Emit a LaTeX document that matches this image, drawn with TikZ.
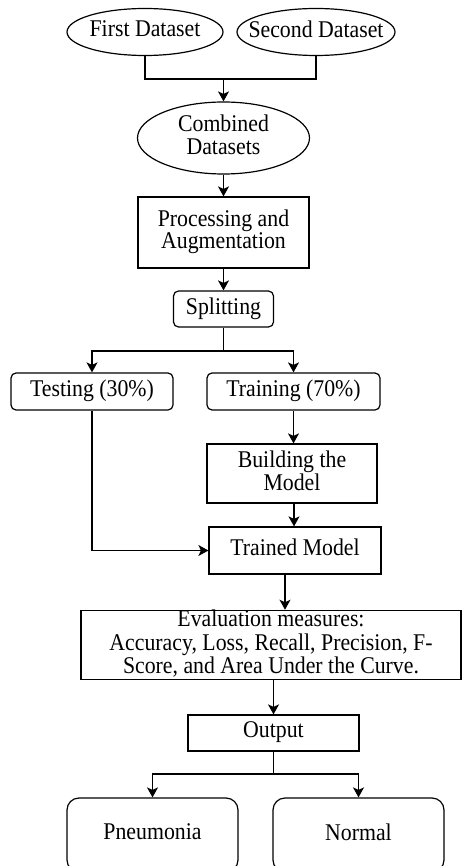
\documentclass[tikz,border=0pt]{standalone}
\usepackage{fontspec}
\usepackage{graphicx}
\setmainfont{Liberation Serif}
\usetikzlibrary{shapes.geometric,arrows.meta}
\newcommand\vtxt[1]{\raisebox{-3.6pt}{\scalebox{1}[1.1]{\begin{tabular}{@{}c@{}}#1\end{tabular}}}}
\begin{document}
\begin{tikzpicture}[x=1pt,y=-1pt,
  every node/.style={font=\fontsize{21.8}{19.6}\selectfont, align=center, inner sep=0pt, line width=1.2pt},
  ell/.style={draw, ellipse, inner xsep=-15pt, inner ysep=0pt},
  sq/.style={draw, rectangle},
  rnd/.style={draw, rectangle, rounded corners=5pt},
  bigrnd/.style={draw, rectangle, rounded corners=12pt},
  ln/.style={line width=1.3pt},
  arr/.style={line width=1.3pt, -{Stealth[length=10pt,width=11pt,inset=2.5pt]}}]
\useasboundingbox (0,0) rectangle (462,866);
\clip (0,0) rectangle (462,866);
\node[ell, minimum width=156pt, minimum height=47pt] (f1) at (145,32) {\vtxt{First Dataset}};
\node[ell, minimum width=158pt, minimum height=47pt] (f2) at (316,32) {\vtxt{Second Dataset}};
\node[ell, minimum width=172pt, minimum height=72pt] (comb) at (223.5,138) {\vtxt{Combined\\Datasets}};
\node[sq, minimum width=171pt, minimum height=71pt] (proc) at (223.5,232.5) {\vtxt{Processing and\\Augmentation}};
\node[rnd, minimum width=100pt, minimum height=36pt] (split) at (223.5,309) {\vtxt{Splitting}};
\node[rnd, minimum width=162pt, minimum height=37pt] (test) at (92,391.5) {\vtxt{Testing (30\%)}};
\node[rnd, minimum width=173pt, minimum height=37pt] (train) at (293.5,391.5) {\vtxt{Training (70\%)}};
\node[sq, minimum width=170pt, minimum height=59pt] (build) at (292,473.5) {\vtxt{Building the\\Model}};
\node[sq, minimum width=172pt, minimum height=47pt] (trained) at (295,550.5) {\vtxt{Trained Model}};
\node[sq, minimum width=380pt, minimum height=68pt] (eval) at (271,645) {\vtxt{Evaluation measures:\\Accuracy, Loss, Recall, Precision, F-\\Score, and Area Under the Curve.}};
\node[sq, minimum width=171pt, minimum height=36pt] (out) at (273.5,733) {\vtxt{Output}};
\node[bigrnd, minimum width=171pt, minimum height=74pt] (pn) at (152.5,835) {\vtxt{Pneumonia}};
\node[bigrnd, minimum width=171pt, minimum height=74pt] (nm) at (358.5,835) {\vtxt{Normal}};
\coordinate (j1) at (223.5,79);
\coordinate (j2) at (223.5,351);
\coordinate (j3) at (273.5,774);
\draw[ln] (f1.south) |- (j1) -| (f2.south);
\draw[arr] (j1) -- (comb.north);
\draw[arr] (comb.south) -- (proc.north);
\draw[arr] (proc.south) -- (split.north);
\draw[ln] (split.south) -- (j2);
\draw[arr] (j2) -| (test.north);
\draw[arr] (j2) -| (train.north);
\draw[arr] (train.south) -- (train.south |- build.north);
\draw[arr] ([xshift=2pt]build.south) -- ([xshift=2pt]build.south |- trained.north);
\draw[arr] (test.south) |- (trained.west);
\draw[arr] ([xshift=-10pt]trained.south) -- ([xshift=-10pt]trained.south |- eval.north);
\draw[arr] (out.north |- eval.south) -- (out.north);
\draw[ln] (out.south) -- (j3);
\draw[arr] (j3) -| (pn.north);
\draw[arr] (j3) -| (nm.north);
\end{tikzpicture}
\end{document}
